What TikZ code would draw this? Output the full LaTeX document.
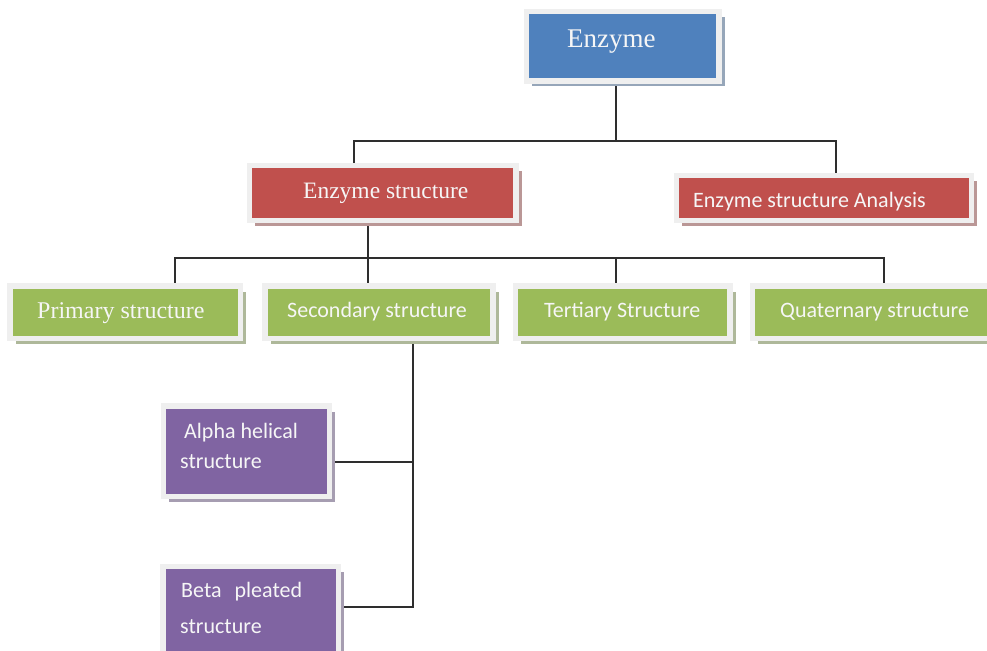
\documentclass[tikz,border=0pt]{standalone}
\usepackage{fontspec}
\setmainfont{Liberation Serif}
\newfontfamily\calfont{Carlito}
\usetikzlibrary{shadows,backgrounds}
\definecolor{enzblue}{HTML}{4F81BD}
\definecolor{enzred}{HTML}{C0504D}
\definecolor{enzgreen}{HTML}{9BBB59}
\definecolor{enzpurple}{HTML}{8064A2}
\definecolor{framegray}{HTML}{EFEFEF}
\definecolor{linegray}{HTML}{2E2E2E}
\definecolor{txtwhite}{HTML}{F6F6F6}
\tikzset{
  card/.style={rectangle, draw=framegray, line width=5.5pt, inner sep=0pt},
  cardc/.style={card, fill=#1, drop shadow={shadow xshift=5.5pt, shadow yshift=-5.5pt,
    fill=#1!45!gray!70, opacity=1}},
  conn/.style={draw=linegray, line width=1.2pt},
  txt/.style={text=txtwhite, inner sep=0pt, anchor=base west},
  serif/.style={txt, font=\fontsize{#1}{#1}\selectfont},
  cal/.style={txt, font=\calfont\fontsize{22}{26}\selectfont},
}
\begin{document}
\begin{tikzpicture}[x=1pt, y=-1pt]
  \useasboundingbox (0,0) rectangle (987,650);
  \clip (0,0) rectangle (987,650);
  % boxes
  \node[cardc=enzblue, minimum width=192.5pt, minimum height=69.5pt] (enz) at (622.75,46.25) {};
  \node[cardc=enzred, minimum width=266.5pt, minimum height=55pt] (es) at (382.75,193) {};
  \node[cardc=enzred, minimum width=295pt, minimum height=45pt] (esa) at (824,198) {};
  \node[cardc=enzgreen, minimum width=230.5pt, minimum height=52.5pt] (pri) at (125.25,312.25) {};
  \node[cardc=enzgreen, minimum width=228pt, minimum height=52.5pt] (sec) at (379,312.25) {};
  \node[cardc=enzgreen, minimum width=214.5pt, minimum height=52.5pt] (ter) at (622.75,312.25) {};
  \node[cardc=enzgreen, minimum width=247.5pt, minimum height=52.5pt] (qua) at (876.25,312.25) {};
  \node[cardc=enzpurple, minimum width=166pt, minimum height=90.5pt] (al) at (246.5,451.25) {};
  \node[cardc=enzpurple, minimum width=175.5pt, minimum height=98.5pt] (be) at (250.75,615.75) {};
  % texts
  \node[serif=27] (t-enz) at (567,48) {Enzyme};
  \node[serif=23.5] (t-es) at (303,198) {Enzyme structure};
  \node[cal] (t-esa) at (693,207) {Enzyme structure Analysis};
  \node[serif=24] (t-pri) at (37,318) {Primary structure};
  \node[cal] (t-sec) at (287,317) {Secondary structure};
  \node[cal] (t-ter) at (544,317) {Tertiary Structure};
  \node[cal] (t-qua) at (780,317) {Quaternary structure};
  \node[cal] (t-al1) at (184,438) {Alpha helical};
  \node[cal] (t-al2) at (180,468) {structure};
  \node[cal] (t-be1) at (181,597) {Beta\hspace{13pt}pleated};
  \node[cal] (t-be2) at (180,633) {structure};
  % connectors
  \coordinate (j1) at (616,141);
  \coordinate (j1l) at (354,141);
  \coordinate (j1r) at (836,141);
  \coordinate (j2) at (368,258);
  \coordinate (j2l) at (175,258);
  \coordinate (j2c) at (616,258);
  \coordinate (j2r) at (884,258);
  \coordinate (j3) at (413,462);
  \coordinate (j4) at (413,607);
  \begin{scope}[on background layer]
    \draw[conn] (enz.south -| j1) -- (j1);
    \draw[conn] (es.north -| j1l) -- (j1l) -- (j1r) -- (esa.north -| j1r);
    \draw[conn] (es.south -| j2) -- (j2) -- (sec.north -| j2);
    \draw[conn] (pri.north -| j2l) -- (j2l) -- (j2r) -- (qua.north -| j2r);
    \draw[conn] (j2c) -- (ter.north -| j2c);
    \draw[conn] (sec.south -| j3) -- (j4) -- (be.east |- j4);
    \draw[conn] (j3) -- (al.east |- j3);
  \end{scope}
\end{tikzpicture}
\end{document}
